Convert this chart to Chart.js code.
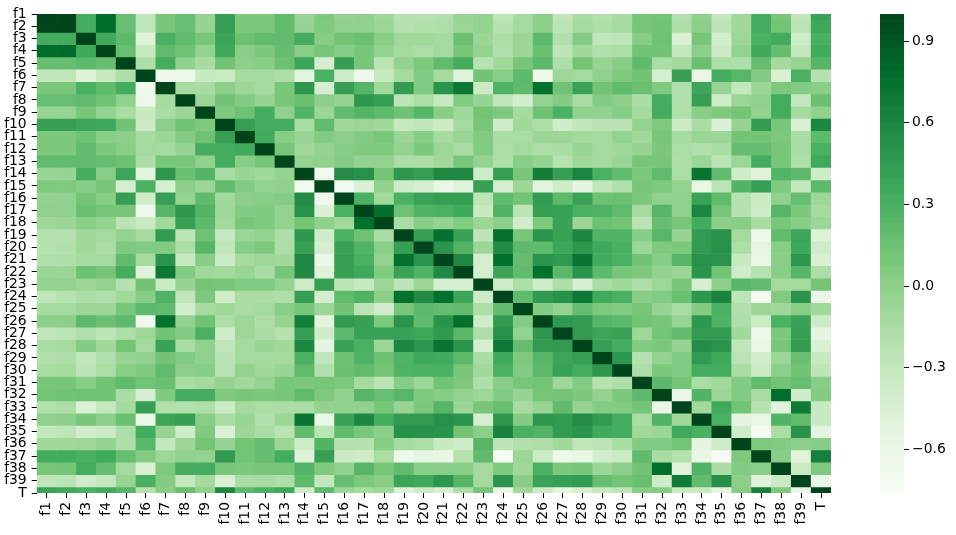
<!DOCTYPE html>
<html>
<head>
<meta charset="utf-8">
<script src="https://cdn.jsdelivr.net/npm/chart.js@4"></script>
<style>
html,body{margin:0;padding:0;background:#fff;width:956px;height:535px;overflow:hidden}
canvas{position:absolute;top:0}
#heat{left:0}
#bar{left:876px}
</style>
</head>
<body>
<canvas id="heat" width="876" height="535"></canvas>
<canvas id="bar" width="80" height="535"></canvas>
<script>
const labels = ['f1','f2','f3','f4','f5','f6','f7','f8','f9','f10','f11','f12','f13','f14','f15','f16','f17','f18','f19','f20','f21','f22','f23','f24','f25','f26','f27','f28','f29','f30','f31','f32','f33','f34','f35','f36','f37','f38','f39','T'];
const colorbarTicks = [-0.6,-0.3,0,0.3,0.6,0.9];
const valueMin = -0.76, valueMax = 1;
const greensStops = ['#f7fcf5','#e5f5e0','#c7e9c0','#a1d99b','#74c476','#41ab5d','#238b45','#006d2c','#00441b'];

// Upper triangle of the correlation matrix: each row starts on the diagonal.
const rF1  = [1,.99,.33,.78,.17,-.28,.09,.17,-.05,.42,.08,.08,.2,-.06,.07,-.03,-.02,-.09,-.22,-.22,-.2,-.06,-.03,-.27,-.13,0,-.28,-.15,-.2,-.14,.1,.12,-.2,-.02,-.3,-.1,.33,.1,-.28,.4];
const rF2  = [1,.33,.78,.17,-.28,.09,.17,-.05,.42,.08,.08,.2,-.05,.06,-.02,-.02,-.07,-.21,-.19,-.18,-.07,-.03,-.22,-.12,0,-.25,-.12,-.17,-.13,.1,.13,-.17,0,-.27,-.1,.33,.12,-.25,.36];
const rF3  = [1,.35,.22,-.48,.3,.2,.1,.38,.15,.2,.2,.32,.03,.12,.16,.02,-.1,-.1,-.13,.15,-.07,-.17,-.07,.22,-.2,.04,-.28,-.26,.03,.14,-.47,.1,-.4,-.08,.3,.33,-.37,.3];
const rF4  = [1,.17,-.32,.2,.14,-.03,.37,.02,.08,.18,.02,.1,.03,.1,-.03,-.13,-.16,-.12,.1,-.03,-.2,-.07,.16,-.27,-.1,-.2,-.16,.13,.13,-.3,0,-.35,-.03,.35,.18,-.3,.34];
const rF5  = [1,-.18,.33,-.02,-.14,.13,0,.02,.15,.38,-.42,.43,.1,-.25,-.03,.07,.2,.32,-.22,-.1,.1,.22,-.18,.12,-.05,.02,.2,-.15,-.12,.16,-.17,-.18,.17,-.12,-.05,.25];
const rF6  = [1,-.66,-.62,-.33,-.35,-.13,-.12,-.17,-.52,.3,-.38,-.65,-.33,-.13,.05,-.13,-.5,.13,.02,.22,-.65,-.08,-.12,-.02,.06,.13,-.42,.42,-.6,.33,.24,.04,-.45,.3,-.22];
const rF7  = [1,-.13,-.14,0,-.08,-.13,.1,.48,-.43,.42,.25,-.1,.45,.05,.5,.7,-.35,.28,.2,.75,.13,.4,.13,.2,.16,.06,-.2,.38,-.05,-.3,-.08,.07,.04,.02];
const rF8  = [1,-.07,.13,.04,-.05,.1,.16,0,-.04,.48,.42,-.27,-.16,-.32,.05,-.05,-.28,-.4,-.03,.04,-.15,.05,0,-.15,.33,-.2,.42,-.38,-.07,-.02,.33,-.3,.16];
const rF9  = [1,.07,.14,.33,-.02,.26,-.07,.2,.26,.22,.14,.25,.03,-.1,.12,.07,-.13,.14,.3,-.02,-.02,.03,-.12,.33,-.18,.02,.06,.12,-.03,.33,-.12,-.02];
const rF10 = [1,.42,.33,.33,-.14,.2,-.1,-.08,-.1,-.32,-.28,-.35,-.12,.1,-.37,-.1,-.17,-.38,-.28,-.24,-.24,-.04,.07,-.35,-.15,-.47,-.05,.45,.1,-.45,.6];
const rF11 = [1,.34,.03,-.06,.05,0,.05,.1,-.07,.03,-.13,-.06,.05,-.15,-.15,-.08,-.08,-.12,-.12,-.03,-.1,.1,-.13,-.06,-.08,.12,.12,.08,-.15,.22];
const rF12 = [1,.1,-.1,-.03,.03,.06,.06,-.03,.08,-.08,-.15,.05,-.16,-.12,-.17,-.15,-.06,-.12,-.1,-.04,.08,-.16,-.2,-.15,.18,.18,.1,-.14,.3];
const rF13 = [1,-.04,-.02,.04,-.03,-.03,-.17,-.17,-.1,.1,-.04,-.18,.02,-.04,-.22,-.1,-.12,-.06,.1,.1,-.17,-.07,-.25,-.07,.33,.1,-.18,.36];
const rF14 = [1,-.68,.56,.52,.12,.48,.42,.58,.58,-.36,.43,.1,.66,.42,.6,.3,.2,.08,.2,-.16,.72,.2,-.38,-.5,.26,.22,-.38];
const rF15 = [1,-.68,-.45,-.02,-.38,-.42,-.6,-.5,.42,-.42,-.07,-.52,-.38,-.55,-.28,-.2,.1,.07,-.03,-.58,-.25,.27,.42,.06,-.3,.22];
const rF16 = [1,.3,-.1,.3,.4,.42,.42,-.26,.2,.13,.45,.22,.4,.15,.16,.08,-.02,-.02,.4,.2,-.22,-.35,-.02,.17,-.08];
const rF17 = [1,.76,.14,.27,.3,.35,-.33,.28,-.25,.42,.41,.3,.28,.2,-.13,.25,-.02,.6,.1,-.22,-.37,.25,.08,-.13];
const rF18 = [1,-.15,.02,-.03,.05,-.07,0,-.4,.08,.4,-.07,.15,.12,-.25,.17,.1,.33,0,.03,-.15,.1,.02,-.08];
const rF19 = [1,.42,.75,.4,-.27,.75,.1,.5,.4,.6,.27,.28,.03,.24,-.05,.45,.52,-.13,-.65,.2,.38,-.48];
const rF20 = [1,.5,.28,-.07,.56,.22,.2,.37,.48,.36,.3,-.07,.06,.08,.45,.52,-.17,-.55,.02,.36,-.36];
const rF21 = [1,.58,-.42,.76,.18,.5,.46,.72,.34,.3,.13,.03,.25,.52,.5,-.33,-.58,.02,.48,-.45];
const rF22 = [1,-.43,.38,.2,.76,.23,.5,.22,.1,.07,-.03,-.07,.5,.13,-.38,-.22,.02,.25,-.16];
const rF23 = [1,-.38,-.17,-.37,-.17,-.42,-.15,-.1,-.18,-.08,.1,-.42,0,.25,.2,-.12,-.12,.12];
const rF24 = [1,.2,.45,.52,.7,.35,.3,.02,.05,.16,.48,.62,-.27,-.72,.06,.5,-.6];
const rF25 = [1,.05,-.03,.18,.07,.05,.1,-.05,-.14,.04,.3,-.2,-.07,-.1,.02,-.1];
const rF26 = [1,.47,.45,.25,.22,.12,.1,-.05,.48,.28,-.17,-.35,.3,.4,-.36];
const rF27 = [1,.45,.38,.4,-.08,.12,.2,.45,.45,-.1,-.62,.08,.42,-.55];
const rF28 = [1,.42,.33,.05,.08,-.05,.55,.5,-.28,-.58,.1,.45,-.45];
const rF29 = [1,.48,-.22,-.03,.05,.45,.35,-.25,-.4,-.07,.17,-.32];
const rF30 = [1,-.17,.08,.05,.33,.33,-.15,-.35,0,.13,-.27];
const rF31 = [1,.22,.12,-.15,-.1,.05,.2,.13,.17,.02];
const rF32 = [1,-.6,.27,-.07,.05,-.14,.77,-.38,.04];
const rF33 = [1,-.1,.35,.12,-.22,-.5,.68,-.33];
const rF34 = [1,.3,-.55,-.58,.27,.2,-.33];
const rF35 = [1,-.37,-.73,-.15,.52,-.53];
const rF36 = [1,.07,.05,0,.03];
const rF37 = [1,.02,-.5,.65];
const rF38 = [1,-.35,.07];
const rF39 = [1,-.6];
const rT   = [1];
const upperRows = [rF1,rF2,rF3,rF4,rF5,rF6,rF7,rF8,rF9,rF10,rF11,rF12,rF13,rF14,rF15,rF16,rF17,rF18,rF19,rF20,rF21,rF22,rF23,rF24,rF25,rF26,rF27,rF28,rF29,rF30,rF31,rF32,rF33,rF34,rF35,rF36,rF37,rF38,rF39,rT];

function cellValue(r, c) {
  return r <= c ? upperRows[r][c - r] : upperRows[c][r - c];
}
function hexToRgb(h) {
  return [parseInt(h.slice(1,3),16), parseInt(h.slice(3,5),16), parseInt(h.slice(5,7),16)];
}
const stopsRgb = greensStops.map(hexToRgb);
function greens(v) {
  const t = Math.min(1, Math.max(0, (v - valueMin) / (valueMax - valueMin))) * (stopsRgb.length - 1);
  const i = Math.min(stopsRgb.length - 2, Math.floor(t)), f = t - i;
  const a = stopsRgb[i], b = stopsRgb[i + 1];
  return 'rgb(' + a.map((x, k) => Math.round(x + (b[k] - x) * f)).join(',') + ')';
}

const tickFont = {family: '"DejaVu Sans"', size: 13.9};

const heatDatasets = labels.map((_, r) => ({
  data: labels.map(() => [r, r + 1]),
  backgroundColor: labels.map((_, c) => greens(cellValue(r, c))),
  grouped: false,
  barPercentage: 1,
  categoryPercentage: 1,
  borderWidth: 0
}));

new Chart(document.getElementById('heat'), {
  type: 'bar',
  data: {labels: labels, datasets: heatDatasets},
  options: {
    responsive: false,
    animation: false,
    devicePixelRatio: 1,
    layout: {padding: {top: 14, right: 45, bottom: 0, left: 0}},
    plugins: {legend: {display: false}, tooltip: {enabled: false}},
    scales: {
      x: {
        type: 'category',
        grid: {display: true, drawOnChartArea: false, offset: false, color: '#000', lineWidth: 1, tickLength: 5},
        border: {display: false},
        ticks: {color: '#000', font: tickFont, maxRotation: 90, minRotation: 90, autoSkip: false, padding: 4},
        afterFit: s => { s.height = 42; }
      },
      y: {
        type: 'linear',
        reverse: true,
        min: 0.5,
        max: 39.5,
        grid: {display: true, drawOnChartArea: false, color: '#000', lineWidth: 1, tickLength: 5},
        border: {display: false},
        ticks: {color: '#000', font: tickFont, autoSkip: false, padding: 5,
                callback: (v, i) => labels[i]},
        afterBuildTicks: s => { s.ticks = labels.map((_, i) => ({value: i + 0.5})); },
        afterFit: s => { s.width = 36.7; }
      }
    }
  }
});

const cbStep = (valueMax - valueMin) / 256;
const cbLevels = Array.from({length: 256}, (_, i) => valueMin + cbStep * i);
new Chart(document.getElementById('bar'), {
  type: 'bar',
  data: {
    labels: ['c'],
    datasets: cbLevels.map(v => ({
      data: [[v, v + cbStep]],
      backgroundColor: greens(v + cbStep / 2),
      grouped: false,
      barPercentage: 1,
      categoryPercentage: 1,
      borderWidth: 0
    }))
  },
  options: {
    responsive: false,
    animation: false,
    devicePixelRatio: 1,
    layout: {padding: {top: 14, right: 0, bottom: 42, left: 4}},
    plugins: {legend: {display: false}, tooltip: {enabled: false}},
    scales: {
      x: {display: false},
      y: {
        position: 'right',
        type: 'linear',
        min: valueMin,
        max: valueMax,
        grid: {display: true, drawOnChartArea: false, color: '#000', lineWidth: 1, tickLength: 5},
        border: {display: false},
        ticks: {color: '#000', font: tickFont, padding: 3, autoSkip: false,
                callback: v => (v < 0 ? '\u2212' : '') + Math.abs(v).toFixed(1)},
        afterBuildTicks: s => { s.ticks = colorbarTicks.map(v => ({value: v})); },
        afterFit: s => { s.width = 52; }
      }
    }
  }
});
</script>
</body>
</html>
